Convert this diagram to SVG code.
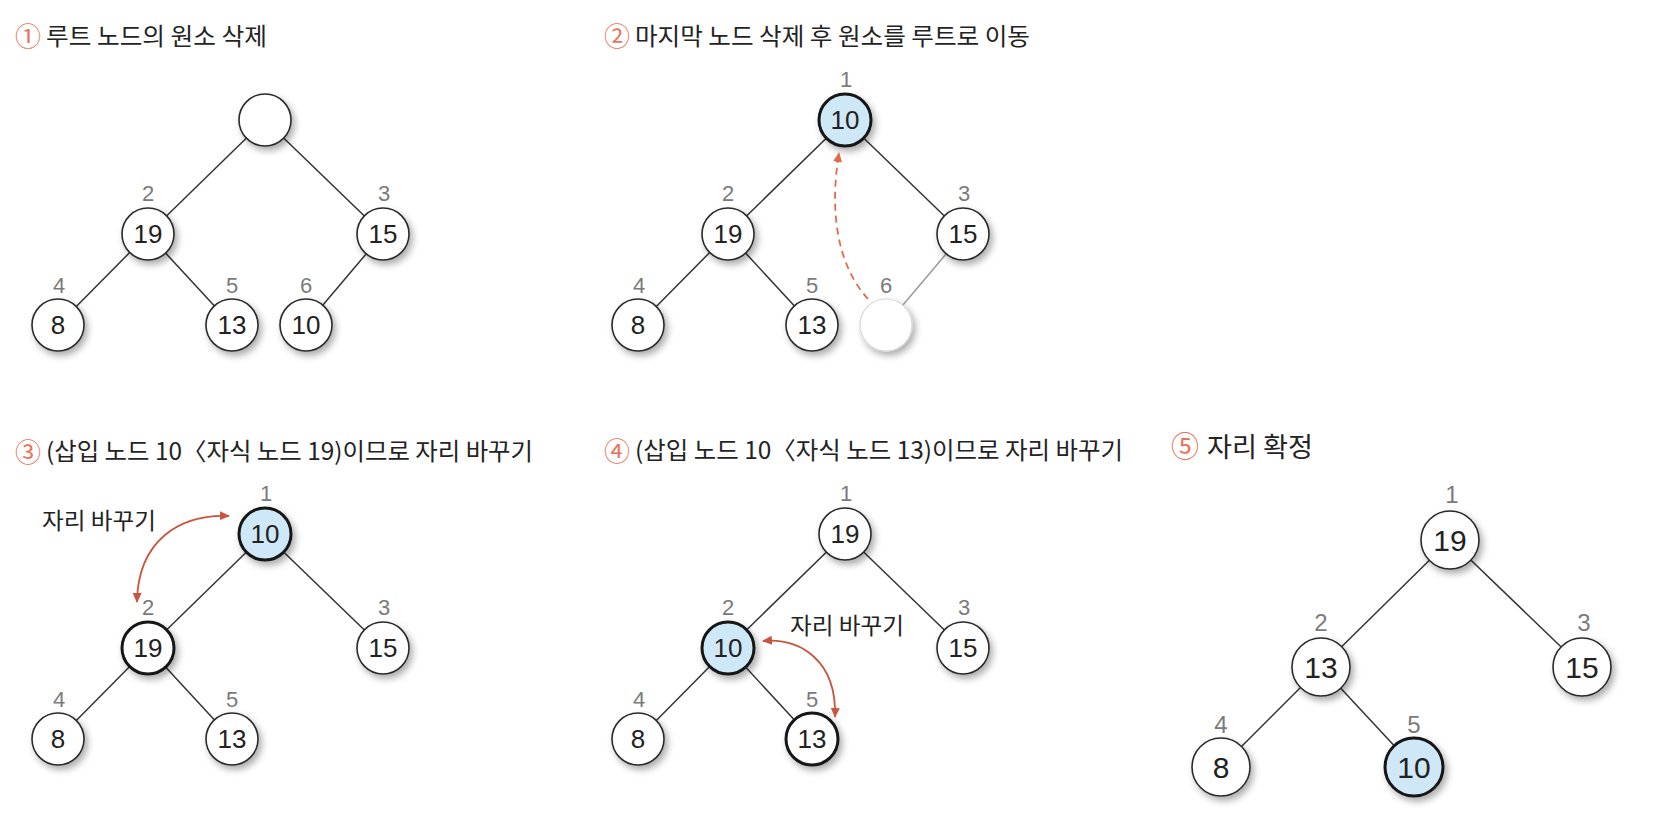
<svg xmlns="http://www.w3.org/2000/svg" width="1670" height="824" viewBox="0 0 1670 824">
<defs>
<style>
.e{stroke:#333;stroke-width:1.5;fill:none}
.eg{stroke:#9a9a9a;stroke-width:1.5;fill:none}
.c{fill:#fff;stroke:#2a2a2a;stroke-width:1.6;filter:url(#sh)}
.c.b{fill:#cfe8f8}
.c.t{stroke:#161616;stroke-width:3}
.c.x{stroke:#d8d8d8;stroke-width:1.2}
.v{font-family:"Liberation Sans",Arial,sans-serif;font-size:26px;fill:#222;text-anchor:middle}
.v5{font-size:30px}
.i{font-family:"Liberation Sans",Arial,sans-serif;font-size:22px;fill:#7b7b7b;text-anchor:middle}
.i5{font-size:24px}
.h{font-family:"Noto Sans CJK KR","Noto Sans",sans-serif;font-size:24px;fill:#232323}
.k{font-family:"Noto Sans CJK KR","DejaVu Sans",sans-serif;font-size:26px;fill:#e8735a;text-anchor:middle}
.sw{font-family:"Noto Sans CJK KR","Noto Sans",sans-serif;font-size:23px;fill:#232323}
.ad{stroke:#e2694c;stroke-width:1.8;fill:none;stroke-dasharray:7 5}
.as{stroke:#c9553f;stroke-width:1.8;fill:none}
</style>
<filter id="sh" x="-40%" y="-40%" width="190%" height="190%">
<feDropShadow dx="3" dy="4" stdDeviation="3.5" flood-color="#000" flood-opacity="0.33"/>
</filter>
<marker id="mo" viewBox="0 0 10 10" refX="9" refY="5" markerUnits="userSpaceOnUse" markerWidth="10" markerHeight="10" orient="auto-start-reverse">
<path d="M0,0.5 L10,5 L0,9.5 z" fill="#e2694c"/>
</marker>
<marker id="mr" viewBox="0 0 10 10" refX="9" refY="5" markerUnits="userSpaceOnUse" markerWidth="10" markerHeight="10" orient="auto-start-reverse">
<path d="M0,0.5 L10,5 L0,9.5 z" fill="#c9553f"/>
</marker>
</defs>
<rect width="1670" height="824" fill="#fff"/>

<g id="titles">
<text class="k" x="28" y="46">①</text>
<text class="h" x="46" y="45" textLength="221" lengthAdjust="spacingAndGlyphs">루트 노드의 원소 삭제</text>
<text class="k" x="617" y="46">②</text>
<text class="h" x="635" y="45" textLength="395" lengthAdjust="spacingAndGlyphs">마지막 노드 삭제 후 원소를 루트로 이동</text>
<text class="k" x="28" y="462">③</text>
<text class="h" x="46" y="460" textLength="487" lengthAdjust="spacingAndGlyphs">(삽입 노드 10〈자식 노드 19)이므로 자리 바꾸기</text>
<text class="k" x="617" y="461">④</text>
<text class="h" x="635" y="459" textLength="488" lengthAdjust="spacingAndGlyphs">(삽입 노드 10〈자식 노드 13)이므로 자리 바꾸기</text>
<text class="k" x="1185" y="457" style="font-size:28px">⑤</text>
<text class="h" x="1207" y="457" style="font-size:27px" textLength="106" lengthAdjust="spacingAndGlyphs">자리 확정</text>
</g>

<g id="connectors">
<line class="e" x1="265" y1="120" x2="148" y2="234"/>
<line class="e" x1="265" y1="120" x2="383" y2="234"/>
<line class="e" x1="148" y1="234" x2="58" y2="325"/>
<line class="e" x1="148" y1="234" x2="232" y2="325"/>
<line class="e" x1="383" y1="234" x2="306" y2="325"/>

<line class="e" x1="845" y1="120" x2="728" y2="234"/>
<line class="e" x1="845" y1="120" x2="963" y2="234"/>
<line class="e" x1="728" y1="234" x2="638" y2="325"/>
<line class="e" x1="728" y1="234" x2="812" y2="325"/>
<line class="eg" x1="963" y1="234" x2="886" y2="325"/>

<line class="e" x1="265" y1="534" x2="148" y2="648"/>
<line class="e" x1="265" y1="534" x2="383" y2="648"/>
<line class="e" x1="148" y1="648" x2="58" y2="739"/>
<line class="e" x1="148" y1="648" x2="232" y2="739"/>

<line class="e" x1="845" y1="534" x2="728" y2="648"/>
<line class="e" x1="845" y1="534" x2="963" y2="648"/>
<line class="e" x1="728" y1="648" x2="638" y2="739"/>
<line class="e" x1="728" y1="648" x2="812" y2="739"/>

<line class="e" x1="1450" y1="540" x2="1321" y2="667"/>
<line class="e" x1="1450" y1="540" x2="1582" y2="667"/>
<line class="e" x1="1321" y1="667" x2="1221" y2="767"/>
<line class="e" x1="1321" y1="667" x2="1414" y2="767"/>
</g>

<g id="p1">
<g id="p1-n1"><circle class="c" cx="265" cy="120" r="26"/></g>
<g id="p1-n2"><text class="i" x="148" y="201">2</text><circle class="c" cx="148" cy="234" r="26"/><text class="v" x="148" y="243">19</text></g>
<g id="p1-n3"><text class="i" x="384" y="201">3</text><circle class="c" cx="383" cy="234" r="26"/><text class="v" x="383" y="243">15</text></g>
<g id="p1-n4"><text class="i" x="59" y="293">4</text><circle class="c" cx="58" cy="325" r="26"/><text class="v" x="58" y="334">8</text></g>
<g id="p1-n5"><text class="i" x="232" y="293">5</text><circle class="c" cx="232" cy="325" r="26"/><text class="v" x="232" y="334">13</text></g>
<g id="p1-n6"><text class="i" x="306" y="293">6</text><circle class="c" cx="306" cy="325" r="26"/><text class="v" x="306" y="334">10</text></g>
</g>

<g id="p2">
<g id="p2-n1"><text class="i" x="846" y="87">1</text><circle class="c b t" cx="845" cy="120" r="26"/><text class="v" x="845" y="129">10</text></g>
<g id="p2-n2"><text class="i" x="728" y="201">2</text><circle class="c" cx="728" cy="234" r="26"/><text class="v" x="728" y="243">19</text></g>
<g id="p2-n3"><text class="i" x="964" y="201">3</text><circle class="c" cx="963" cy="234" r="26"/><text class="v" x="963" y="243">15</text></g>
<g id="p2-n4"><text class="i" x="639" y="293">4</text><circle class="c" cx="638" cy="325" r="26"/><text class="v" x="638" y="334">8</text></g>
<g id="p2-n5"><text class="i" x="812" y="293">5</text><circle class="c" cx="812" cy="325" r="26"/><text class="v" x="812" y="334">13</text></g>
<g id="p2-n6"><text class="i" x="886" y="293">6</text><circle class="c x" cx="886" cy="325" r="26"/></g>
<path id="p2-move" class="ad" d="M868 299 C838 266 829 214 839 153" marker-end="url(#mo)"/>
</g>

<g id="p3">
<g id="p3-n1"><text class="i" x="266" y="501">1</text><circle class="c b t" cx="265" cy="534" r="26"/><text class="v" x="265" y="543">10</text></g>
<g id="p3-n2"><text class="i" x="148" y="615">2</text><circle class="c t" cx="148" cy="648" r="26"/><text class="v" x="148" y="657">19</text></g>
<g id="p3-n3"><text class="i" x="384" y="615">3</text><circle class="c" cx="383" cy="648" r="26"/><text class="v" x="383" y="657">15</text></g>
<g id="p3-n4"><text class="i" x="59" y="707">4</text><circle class="c" cx="58" cy="739" r="26"/><text class="v" x="58" y="748">8</text></g>
<g id="p3-n5"><text class="i" x="232" y="707">5</text><circle class="c" cx="232" cy="739" r="26"/><text class="v" x="232" y="748">13</text></g>
<text class="sw" x="42" y="529" textLength="114" lengthAdjust="spacingAndGlyphs">자리 바꾸기</text>
<path id="p3-swap" class="as" d="M229 516 C180 514 138 540 137 602" marker-start="url(#mr)" marker-end="url(#mr)"/>
</g>

<g id="p4">
<g id="p4-n1"><text class="i" x="846" y="501">1</text><circle class="c" cx="845" cy="534" r="26"/><text class="v" x="845" y="543">19</text></g>
<g id="p4-n2"><text class="i" x="728" y="615">2</text><circle class="c b t" cx="728" cy="648" r="26"/><text class="v" x="728" y="657">10</text></g>
<g id="p4-n3"><text class="i" x="964" y="615">3</text><circle class="c" cx="963" cy="648" r="26"/><text class="v" x="963" y="657">15</text></g>
<g id="p4-n4"><text class="i" x="639" y="707">4</text><circle class="c" cx="638" cy="739" r="26"/><text class="v" x="638" y="748">8</text></g>
<g id="p4-n5"><text class="i" x="812" y="707">5</text><circle class="c t" cx="812" cy="739" r="26"/><text class="v" x="812" y="748">13</text></g>
<text class="sw" x="790" y="634" textLength="114" lengthAdjust="spacingAndGlyphs">자리 바꾸기</text>
<path id="p4-swap" class="as" d="M763 641 C800 638 837 660 835 717" marker-start="url(#mr)" marker-end="url(#mr)"/>
</g>

<g id="p5">
<g id="p5-n1"><text class="i i5" x="1452" y="503">1</text><circle class="c" cx="1450" cy="540" r="29"/><text class="v v5" x="1450" y="551">19</text></g>
<g id="p5-n2"><text class="i i5" x="1321" y="631">2</text><circle class="c" cx="1321" cy="667" r="29"/><text class="v v5" x="1321" y="678">13</text></g>
<g id="p5-n3"><text class="i i5" x="1584" y="631">3</text><circle class="c" cx="1582" cy="667" r="29"/><text class="v v5" x="1582" y="678">15</text></g>
<g id="p5-n4"><text class="i i5" x="1221" y="733">4</text><circle class="c" cx="1221" cy="767" r="29"/><text class="v v5" x="1221" y="778">8</text></g>
<g id="p5-n5"><text class="i i5" x="1414" y="733">5</text><circle class="c b t" cx="1414" cy="767" r="29"/><text class="v v5" x="1414" y="778">10</text></g>
</g>
</svg>
